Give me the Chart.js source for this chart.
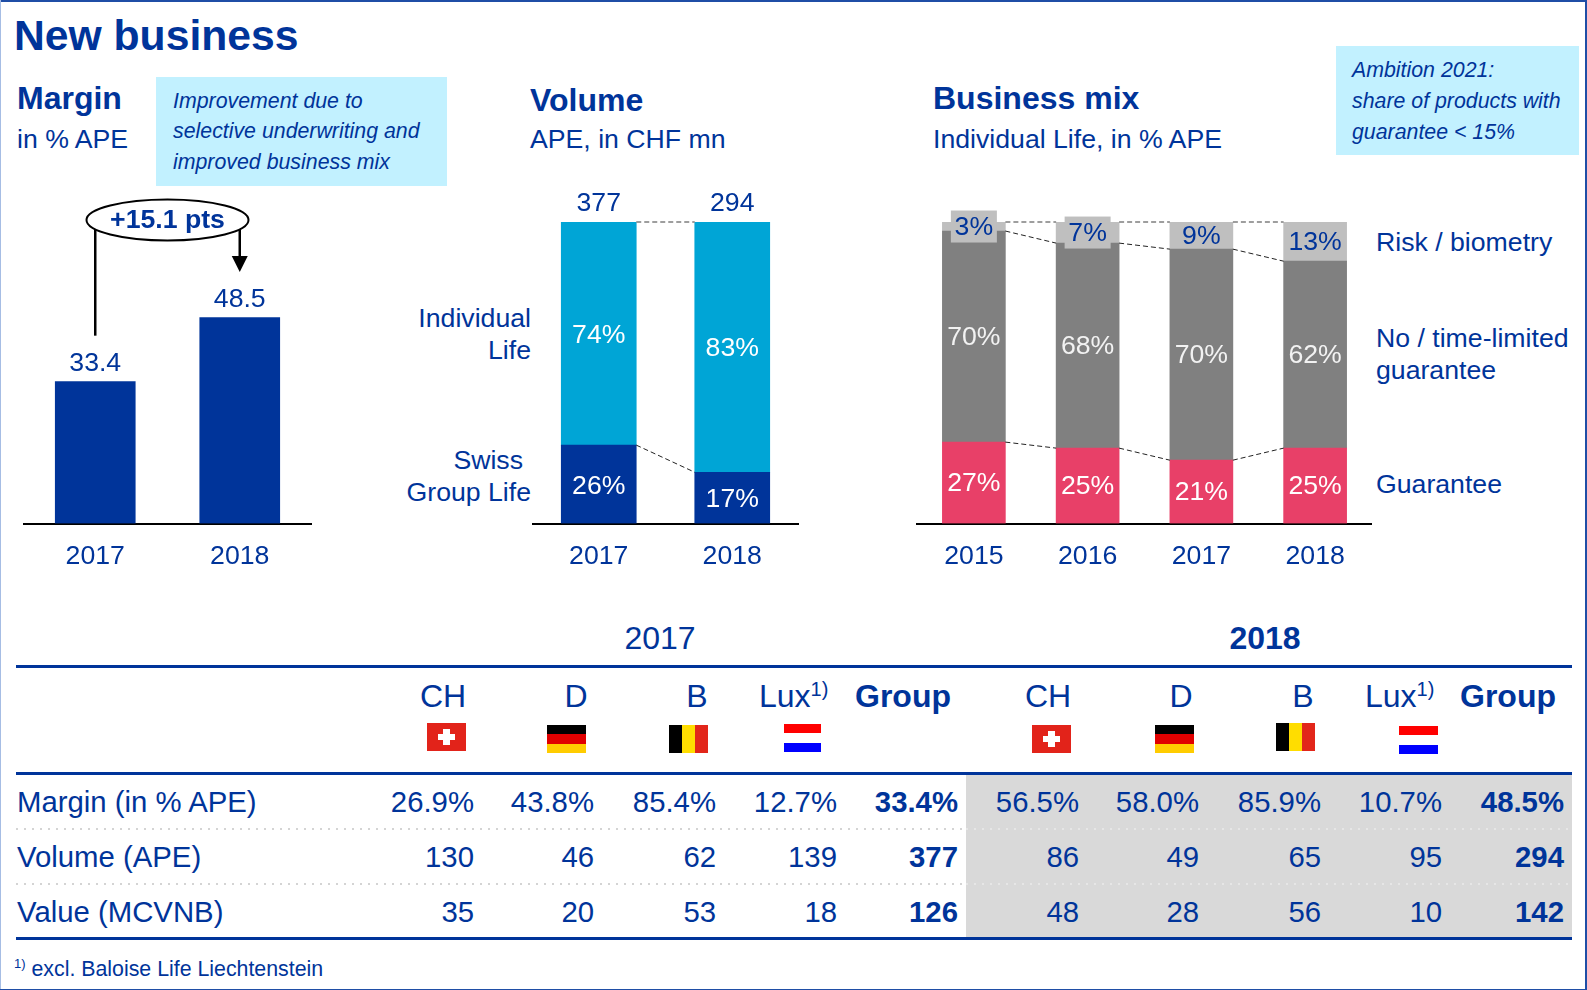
<!DOCTYPE html>
<html>
<head>
<meta charset="utf-8">
<title>New business</title>
<script src="https://cdn.jsdelivr.net/npm/chart.js@4"></script>
<style>
html,body{margin:0;padding:0;background:#fff}
#page{position:relative;width:1587px;height:990px;overflow:hidden;font-family:"Liberation Sans",Arial,sans-serif;color:#00349a}
.t{position:absolute;white-space:nowrap;line-height:40px;height:40px}
.b{position:absolute}
canvas{position:absolute}
sup{line-height:0;vertical-align:baseline;position:relative}
</style>
</head>
<body>
<div id="page"></div>
<script>
// Margin chart
const marginYears = ['2017', '2018'];
const marginValues = [33.4, 48.5];
// Volume chart
const volumeYears = ['2017', '2018'];
const volumeTotals = [377, 294];
const groupLifeShare = [26, 17];
const individualLifeShare = [74, 83];
// Business mix chart
const mixYears = ['2015', '2016', '2017', '2018'];
const guaranteeShare = [27, 25, 21, 25];
const noGuaranteeShare = [70, 68, 70, 62];
const riskShare = [3, 7, 9, 13];
// Table
const tableRows = ['Margin (in % APE)', 'Volume (APE)', 'Value (MCVNB)'];
const table2017Margin = ['26.9%', '43.8%', '85.4%', '12.7%', '33.4%'];
const table2017Volume = ['130', '46', '62', '139', '377'];
const table2017Value = ['35', '20', '53', '18', '126'];
const table2018Margin = ['56.5%', '58.0%', '85.9%', '10.7%', '48.5%'];
const table2018Volume = ['86', '49', '65', '95', '294'];
const table2018Value = ['48', '28', '56', '10', '142'];

const BLUE = '#00349a', CYAN = '#00a5d6', GREY = '#808080', LGREY = '#bfbfbf', PINK = '#e84068';
const FONT = '"Liberation Sans", Arial, sans-serif';
const BODY = 26.67, CELL = 29.33, HEAD = 32, NOTE = 21.33;
Chart.defaults.font.family = FONT;
const page = document.getElementById('page');

function txt(html, x, base, o) {
  o = o || {};
  const fs = o.size || BODY, el = document.createElement('div');
  el.className = 't';
  el.innerHTML = html;
  el.style.fontSize = fs + 'px';
  el.style.top = Math.round(base - 0.3465 * fs - 20) + 'px';
  if (o.bold) el.style.fontWeight = 'bold';
  if (o.italic) el.style.fontStyle = 'italic';
  if (o.align === 'right') el.style.right = (1587 - x) + 'px';
  else if (o.align === 'center') { el.style.left = (x - 200) + 'px'; el.style.width = '400px'; el.style.textAlign = 'center'; }
  else el.style.left = x + 'px';
  page.appendChild(el);
}
function box(x, y, w, h, bg) {
  const el = document.createElement('div');
  el.className = 'b';
  el.style.cssText += `left:${x}px;top:${y}px;width:${w}px;height:${h}px;background:${bg};`;
  page.appendChild(el);
  return el;
}

// frame
box(0, 0, 1587, 2, '#1f4ea6');
box(0, 0, 1, 990, '#a6bde4');
box(1585, 0, 2, 990, '#1f4ea6');
box(0, 989, 1587, 1, '#1f4ea6');

// headings
txt('New business', 14, 50, {size: 42.67, bold: true});
txt('Margin', 17, 109, {size: HEAD, bold: true});
txt('in % APE', 17, 148);
txt('Volume', 530, 111, {size: HEAD, bold: true});
txt('APE, in CHF mn', 530, 148);
txt('Business mix', 933, 109, {size: HEAD, bold: true});
txt('Individual Life, in % APE', 933, 148);

// callouts
box(156, 77, 291, 109, '#c2f1ff');
txt('Improvement due to', 173, 108, {size: NOTE, italic: true});
txt('selective underwriting and', 173, 138, {size: NOTE, italic: true});
txt('improved business mix', 173, 169, {size: NOTE, italic: true});
box(1336, 46, 243, 109, '#c2f1ff');
txt('Ambition 2021:', 1352, 77, {size: NOTE, italic: true});
txt('share of products with', 1352, 108, {size: NOTE, italic: true});
txt('guarantee &lt; 15%', 1352, 139, {size: NOTE, italic: true});

// side labels
txt('Individual', 531, 327, {align: 'right'});
txt('Life', 531, 359, {align: 'right'});
txt('Swiss', 523, 469, {align: 'right'});
txt('Group Life', 531, 501, {align: 'right'});
txt('Risk / biometry', 1376, 251);
txt('No / time-limited', 1376, 347);
txt('guarantee', 1376, 379);
txt('Guarantee', 1376, 493);

// chart helpers
function segmentLabels(chart, dy) {
  const ctx = chart.ctx;
  ctx.save();
  ctx.font = BODY + 'px ' + FONT;
  ctx.textAlign = 'center';
  ctx.textBaseline = 'middle';
  chart.data.datasets.forEach((ds, di) => {
    if (!ds.segLabel) return;
    chart.getDatasetMeta(di).data.forEach((el, i) => {
      const cy = (el.y + el.base) / 2;
      if (ds.data[i] <= 7 && ds.labelBox) {
        ctx.fillStyle = ds.backgroundColor;
        ctx.fillRect(el.x - 23, cy - 16, 46, 32);
      }
      ctx.fillStyle = ds.segLabel;
      ctx.fillText(ds.data[i] + '%', el.x, cy + dy);
    });
  });
  ctx.restore();
}
function connectors(chart) {
  const ctx = chart.ctx, n = chart.data.datasets.length;
  ctx.save();
  chart.data.datasets.forEach((ds, di) => {
    const pts = chart.getDatasetMeta(di).data, top = di === n - 1;
    ctx.strokeStyle = top ? '#7f7f7f' : '#222';
    ctx.lineWidth = top ? 1.5 : 1;
    ctx.setLineDash([5, 3]);
    for (let i = 0; i < pts.length - 1; i++) {
      ctx.beginPath();
      ctx.moveTo(pts[i].x + pts[i].width / 2, pts[i].y);
      ctx.lineTo(pts[i + 1].x - pts[i + 1].width / 2, pts[i + 1].y);
      ctx.stroke();
    }
  });
  ctx.restore();
}
function topTotals(chart, values) {
  const ctx = chart.ctx, m = chart.getDatasetMeta(chart.data.datasets.length - 1);
  ctx.save();
  ctx.font = BODY + 'px ' + FONT;
  ctx.fillStyle = BLUE;
  ctx.textAlign = 'center';
  ctx.textBaseline = 'middle';
  m.data.forEach((el, i) => ctx.fillText(String(values[i]), el.x, el.y - 18));
  ctx.restore();
}
function changeAnnotation(chart) {
  const ctx = chart.ctx, m = chart.getDatasetMeta(0).data;
  const x0 = m[0].x, x1 = m[1].x, cx = (x0 + x1) / 2, cy = 30;
  ctx.save();
  ctx.strokeStyle = '#000';
  ctx.fillStyle = '#000';
  ctx.lineWidth = 2.5;
  ctx.beginPath(); ctx.moveTo(x0, cy + 10); ctx.lineTo(x0, m[0].y - 46); ctx.stroke();
  ctx.beginPath(); ctx.moveTo(x1, cy + 10); ctx.lineTo(x1, 68); ctx.stroke();
  ctx.beginPath(); ctx.moveTo(x1 - 8, 66); ctx.lineTo(x1 + 8, 66); ctx.lineTo(x1, 82); ctx.closePath(); ctx.fill();
  ctx.fillStyle = '#fff';
  ctx.lineWidth = 2;
  ctx.beginPath(); ctx.ellipse(cx, cy, 81, 20.5, 0, 0, Math.PI * 2); ctx.fill(); ctx.stroke();
  ctx.fillStyle = BLUE;
  ctx.font = 'bold ' + BODY + 'px ' + FONT;
  ctx.textAlign = 'center';
  ctx.textBaseline = 'middle';
  ctx.fillText('+15.1 pts', cx, cy + 1);
  ctx.restore();
}
function makeChart(left, width, labels, datasets, yMax, thickness, padLeft, after) {
  const cv = document.createElement('canvas');
  cv.style.left = left + 'px';
  cv.style.top = '190px';
  cv.style.width = width + 'px';
  cv.style.height = '390px';
  cv.width = width; cv.height = 390;
  page.appendChild(cv);
  datasets.forEach(d => { d.barThickness = thickness; d.borderWidth = 0; });
  return new Chart(cv, {
    type: 'bar',
    data: {labels, datasets},
    options: {
      responsive: false,
      animation: false,
      layout: {padding: {top: 32, left: padLeft, right: 0, bottom: 0}},
      plugins: {legend: {display: false}, tooltip: {enabled: false}},
      scales: {
        x: {
          stacked: true,
          grid: {display: false, drawTicks: false},
          border: {display: true, color: '#000', width: 2},
          ticks: {color: BLUE, font: {size: BODY}, padding: 17, maxRotation: 0},
          afterFit: s => { s.height = 56.5; }
        },
        y: {stacked: true, display: false, min: 0, max: yMax}
      }
    },
    plugins: [{id: 'overlay', afterDatasetsDraw: after}]
  });
}

makeChart(23, 289, marginYears,
  [{label: 'Margin', data: marginValues, backgroundColor: BLUE}], 71, 80, 0,
  chart => { topTotals(chart, marginValues); changeAnnotation(chart); });

makeChart(532, 267, volumeYears,
  [{label: 'Swiss Group Life', data: groupLifeShare, backgroundColor: BLUE, segLabel: '#fff'},
   {label: 'Individual Life', data: individualLifeShare, backgroundColor: CYAN, segLabel: '#fff'}], 100, 75, 0,
  chart => { connectors(chart); segmentLabels(chart, 2); topTotals(chart, volumeTotals); });

makeChart(916, 456, mixYears,
  [{label: 'Guarantee', data: guaranteeShare, backgroundColor: PINK, segLabel: '#fff'},
   {label: 'No / time-limited guarantee', data: noGuaranteeShare, backgroundColor: GREY, segLabel: '#f2f2f2'},
   {label: 'Risk / biometry', data: riskShare, backgroundColor: LGREY, segLabel: BLUE, labelBox: true}], 100, 63, 1,
  chart => { connectors(chart); segmentLabels(chart, 1); });

// table
box(966, 773, 606, 166, '#d9d9d9');
box(16, 665, 1556, 3, BLUE);
box(16, 772, 1556, 3, BLUE);
box(16, 937, 1556, 3, BLUE);
[828, 883].forEach(y => {
  box(16, y, 950, 2, 'repeating-linear-gradient(90deg,#d4d4d4 0 2px,transparent 2px 8px)');
  box(966, y, 606, 2, 'repeating-linear-gradient(90deg,#e6e6e6 0 2px,transparent 2px 8px)');
});
txt('2017', 660, 649, {size: HEAD, align: 'center'});
txt('2018', 1265, 649, {size: HEAD, bold: true, align: 'center'});

const headBase = 707;
const lux = 'Lux<sup style="font-size:20px;top:-11px">1)</sup>';
[[443, 'CH'], [576, 'D'], [697, 'B'], [1048, 'CH'], [1181, 'D'], [1303, 'B']].forEach(h =>
  txt(h[1], h[0], headBase, {size: HEAD, align: 'center'}));
txt(lux, 759, headBase, {size: HEAD});
txt(lux, 1365, headBase, {size: HEAD});
txt('Group', 903, headBase, {size: HEAD, bold: true, align: 'center'});
txt('Group', 1508, headBase, {size: HEAD, bold: true, align: 'center'});

function flag(kind, x, y, w) {
  const h = 28;
  w = w || 38.5;
  if (kind === 'CH') {
    box(x, y, w, h, '#e2231a');
    box(x + w / 2 - 3, y + 6, 7, 16, '#fff');
    box(x + w / 2 - 8, y + 11, 17, 6, '#fff');
  } else if (kind === 'D') {
    box(x, y, w, h, 'linear-gradient(180deg,#000 0 33.3%,#e00000 33.3% 66.6%,#ffcc00 66.6%)');
  } else if (kind === 'B') {
    box(x, y, w, h, 'linear-gradient(90deg,#000 0 33.3%,#ffdd00 33.3% 66.6%,#e2261a 66.6%)');
  } else {
    box(x, y, w, h, 'linear-gradient(180deg,#ff0000 0 33.3%,#fff 33.3% 66.6%,#0000ff 66.6%)');
  }
}
flag('CH', 427, 723); flag('D', 547, 725); flag('B', 669, 725); flag('NL', 784, 724, 37);
flag('CH', 1032, 725); flag('D', 1155, 725); flag('B', 1276, 723); flag('NL', 1399, 726);

const rowBases = [812, 867, 922];
const colRights2017 = [474, 594, 716, 837, 958];
const colRights2018 = [1079, 1199, 1321, 1442, 1564];
tableRows.forEach((r, i) => txt(r, 17, rowBases[i], {size: CELL}));
[table2017Margin, table2017Volume, table2017Value].forEach((row, i) =>
  row.forEach((v, j) => txt(v, colRights2017[j], rowBases[i], {size: CELL, align: 'right', bold: j === 4})));
[table2018Margin, table2018Volume, table2018Value].forEach((row, i) =>
  row.forEach((v, j) => txt(v, colRights2018[j], rowBases[i], {size: CELL, align: 'right', bold: j === 4})));

txt('<sup style="font-size:13px;top:-8px">1)</sup>&nbsp;excl. Baloise Life Liechtenstein', 14, 976, {size: NOTE});
</script>
</body>
</html>
